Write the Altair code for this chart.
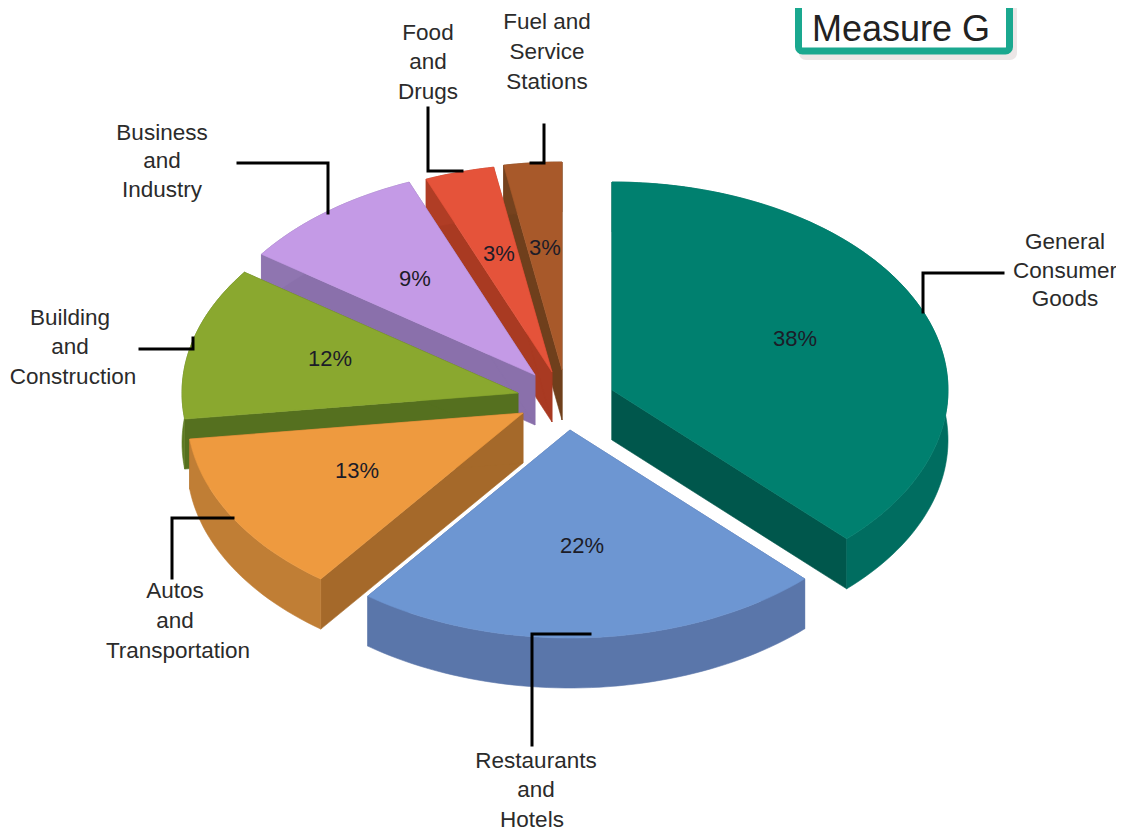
import math
import altair as alt
import pandas as pd

# ---- values
categories = ["General Consumer Goods", "Restaurants and Hotels", "Autos and Transportation",
              "Building and Construction", "Business and Industry", "Food and Drugs",
              "Fuel and Service Stations"]
shares = [38, 22, 13, 12, 9, 3, 3]
# slice edges as drawn in the picture (degrees clockwise from the top); the drawn
# 3-D slices differ slightly from the exact shares
edges = [0, 135.7, 217, 262.8, 305.5, 338, 350, 360]
top_colours = ["#00806f", "#6d96d2", "#ee9a3f", "#8aa82f", "#c49ae6", "#e5533a", "#a8592a"]
radial_colours = ["#00574c", "#5670a3", "#a5692a", "#55701f", "#8a70ab", "#a93a22", "#6f3f1c"]
arc_colours = ["#006d60", "#5a76aa", "#c07e35", "#5d7a22", "#8f75b0", "#b03d25", "#75421e"]

# ---- pie geometry (pixels of the picture)
apex_x = [612, 570, 523, 518, 535, 552, 562]
apex_y = [390, 430, 413, 393, 375, 372, 370]
RX, RY, DEPTH = 336, 208, 50
draw_order = [6, 5, 4, 3, 2, 1, 0]

label_text = ["Fuel and", "Service", "Stations", "Food", "and", "Drugs", "Business", "and", "Industry",
              "Building", "and", "Construction", "General", "Consumer", "Goods", "Autos", "and",
              "Transportation", "Restaurants", "and", "Hotels"]
label_x = [547, 547, 547, 428, 428, 428, 162, 162, 162, 70, 70, 73, 1065, 1065, 1065, 175, 175, 178, 536, 536, 532]
label_y = [22, 52, 82, 33, 62, 92, 133, 161, 190, 318, 347, 377, 242, 271, 299, 591, 621, 651, 761, 790, 820]

pct_x = [795, 582, 357, 330, 415, 499, 545]
pct_y = [339, 546, 471, 359, 279, 254, 248]

leaders = [
    [(238, 163), (328, 163), (328, 213)],
    [(428, 108), (428, 171), (462, 171)],
    [(544, 125), (544, 163), (531, 163)],
    [(1003, 273), (923, 273), (923, 312)],
    [(140, 349), (193, 349), (193, 338)],
    [(233, 518), (172, 518), (172, 578)],
    [(590, 634), (532, 634), (532, 745)],
]

# ---- build slice faces
rows = []
def add_face(name, colour, pts):
    for i, (x, y) in enumerate(pts + pts[:1]):
        rows.append({"face": name, "colour": colour, "i": i, "x": x, "y": y})

for k in draw_order:
    a0, a1 = edges[k], edges[k + 1]
    ax, ay = apex_x[k], apex_y[k]
    n = max(4, int((a1 - a0) / 1.5))
    arc = []
    for j in range(n + 1):
        t = math.radians(a0 + (a1 - a0) * j / n)
        arc.append((ax + RX * math.sin(t), ay - RY * math.cos(t)))
    low = [(x, y + DEPTH) for x, y in arc]
    add_face(f"{k}-r0", radial_colours[k], [(ax, ay), arc[0], low[0], (ax, ay + DEPTH)])
    add_face(f"{k}-r1", radial_colours[k], [(ax, ay), arc[-1], low[-1], (ax, ay + DEPTH)])
    add_face(f"{k}-arc", arc_colours[k], arc + low[::-1])
    add_face(f"{k}-top", top_colours[k], [(ax, ay)] + arc)

faces = pd.DataFrame(rows)

xs = alt.Scale(domain=[8, 1116], range=[0, 1108], nice=False, zero=False)
ys = alt.Scale(domain=[8, 832], range=[0, 824], nice=False, zero=False)
X = alt.X("x:Q", scale=xs, axis=None)
Y = alt.Y("y:Q", scale=ys, axis=None)

pie = alt.Chart(faces).mark_line(strokeWidth=0.6, interpolate="linear").encode(
    x=X, y=Y,
    detail="face:N",
    fill=alt.Fill("colour:N", scale=None, legend=None),
    stroke=alt.Stroke("colour:N", scale=None, legend=None),
    order="i:Q",
)

leader_rows = []
for n, line in enumerate(leaders):
    for i, (x, y) in enumerate(line):
        leader_rows.append({"line": n, "i": i, "x": x, "y": y})
leader_chart = alt.Chart(pd.DataFrame(leader_rows)).mark_line(
    color="#000000", strokeWidth=3, strokeCap="square", strokeJoin="miter").encode(
    x=X, y=Y, detail="line:N", order="i:Q")

labels = alt.Chart(pd.DataFrame({"x": label_x, "y": label_y, "t": label_text})).mark_text(
    font="Liberation Sans", fontSize=22.5, color="#2b2b2b", align="center", baseline="middle").encode(
    x=X, y=Y, text="t:N")

pcts = alt.Chart(pd.DataFrame({"x": pct_x, "y": pct_y, "t": [f"{s}%" for s in shares]})).mark_text(
    font="Liberation Sans", fontSize=22, color="#1c1c28", align="center", baseline="middle").encode(
    x=X, y=Y, text="t:N")

# ---- "Measure G" box, open at the top of the page; text kept whole inside it
shadow = alt.Chart(pd.DataFrame({"x": [799], "x2": [1017], "y": [-20], "y2": [60]})).mark_rect(
    color="#c9b9b9", opacity=0.35, cornerRadius=7, clip=False).encode(x=X, x2="x2:Q", y=Y, y2="y2:Q")
box = alt.Chart(pd.DataFrame({"x": [798.5], "x2": [1009.5], "y": [-20], "y2": [51]})).mark_rect(
    fill="#ffffff", stroke="#1aa88f", strokeWidth=7, cornerRadius=4, clip=False).encode(x=X, x2="x2:Q", y=Y, y2="y2:Q")
box_text = alt.Chart(pd.DataFrame({"x": [901], "y": [41], "t": ["Measure G"]})).mark_text(
    font="Liberation Sans", fontSize=36, color="#222222", align="center", baseline="alphabetic").encode(
    x=X, y=Y, text="t:N")

chart = alt.layer(pie, leader_chart, labels, pcts, shadow, box, box_text).properties(
    width=1108, height=824, padding=0, autosize=alt.AutoSizeParams(type="none"),
    background="#ffffff",
).configure_view(stroke=None)

chart.save("out.html", embed_options={"renderer": "svg", "actions": False})
